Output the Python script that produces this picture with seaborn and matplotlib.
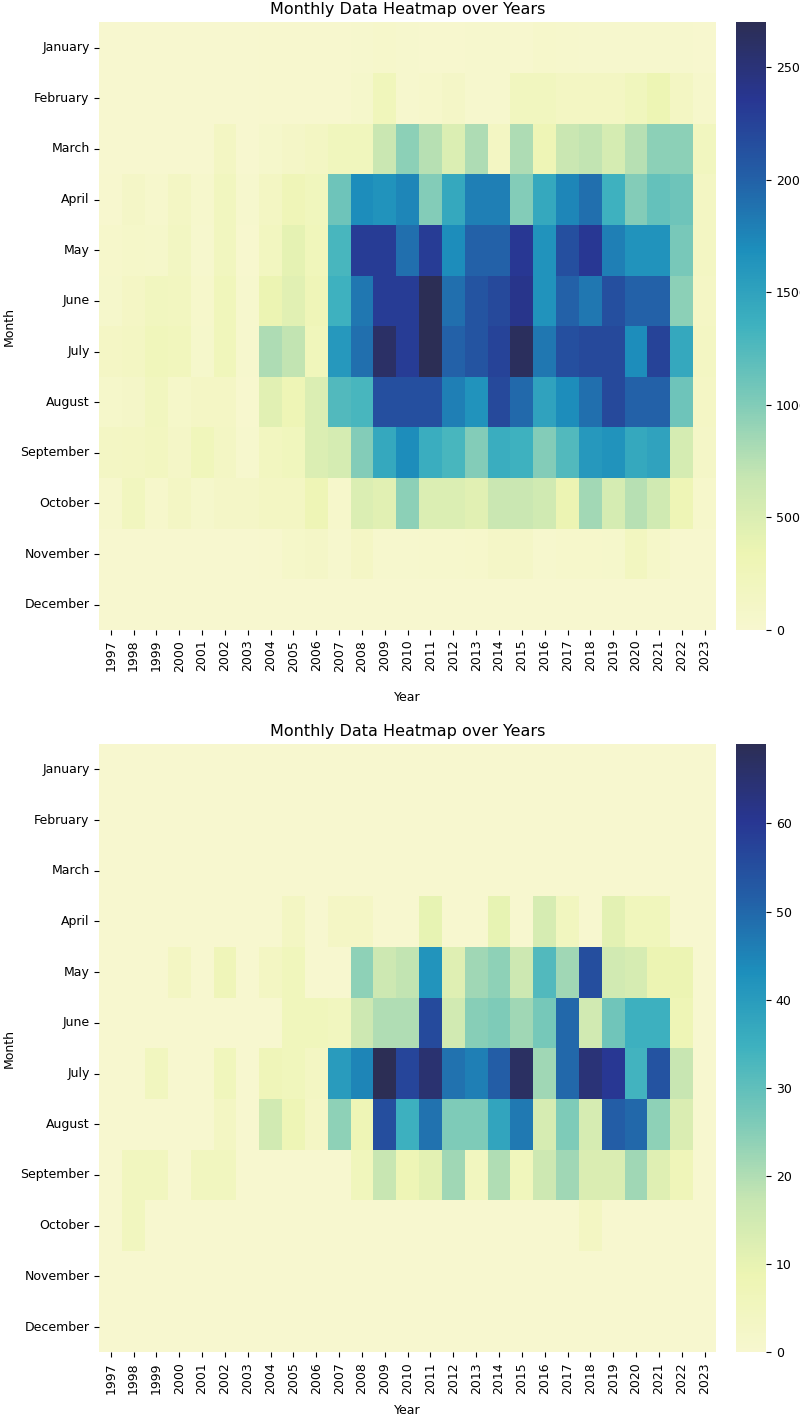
import pandas as pd
import matplotlib
matplotlib.use("Agg")
import matplotlib.pyplot as plt
from matplotlib.colors import LinearSegmentedColormap
import seaborn as sns

years = list(range(1997, 2024))
months = ['January', 'February', 'March', 'April', 'May', 'June', 'July',
          'August', 'September', 'October', 'November', 'December']

# Painel superior (valores por mes, 1997..2023)
top_jan = [10, 10, 10, 10, 10, 10, 10, 15, 15, 20, 20, 25, 50, 25, 20, 20, 25, 25, 20, 45, 40, 25, 30, 30, 30, 30, 20]
top_feb = [10, 10, 10, 10, 10, 10, 10, 15, 15, 20, 20, 60, 250, 30, 50, 100, 30, 30, 200, 200, 150, 150, 150, 230, 330, 150, 50]
top_mar = [10, 10, 10, 10, 10, 150, 10, 60, 100, 150, 230, 230, 650, 950, 750, 500, 800, 150, 800, 300, 650, 700, 550, 750, 950, 950, 200]
top_apr = [20, 100, 40, 130, 40, 200, 30, 150, 280, 230, 1100, 1700, 1650, 1750, 1000, 1450, 1800, 1800, 1000, 1450, 1750, 1900, 1350, 1000, 1150, 1100, 150]
top_may = [50, 80, 70, 160, 30, 200, 20, 180, 420, 250, 1300, 2300, 2300, 1900, 2300, 1700, 2000, 2000, 2350, 1650, 2150, 2350, 1800, 1650, 1650, 1050, 150]
top_jun = [60, 120, 200, 180, 50, 250, 30, 350, 450, 280, 1350, 1850, 2300, 2300, 2700, 1900, 2100, 2200, 2400, 1650, 2000, 1850, 2150, 2000, 2000, 950, 120]
top_jul = [120, 150, 250, 220, 60, 250, 30, 800, 700, 250, 1600, 1900, 2600, 2300, 2700, 2000, 2100, 2250, 2650, 1850, 2150, 2200, 2200, 1700, 2250, 1450, 150]
top_aug = [70, 90, 200, 80, 120, 120, 20, 450, 300, 500, 1250, 1300, 2150, 2150, 2150, 1800, 1650, 2200, 1950, 1500, 1700, 1900, 2200, 2000, 2000, 1100, 120]
top_sep = [130, 150, 180, 100, 250, 130, 30, 180, 230, 500, 550, 1000, 1450, 1700, 1400, 1300, 1000, 1400, 1350, 1000, 1250, 1600, 1650, 1450, 1500, 550, 100]
top_oct = [40, 200, 50, 130, 60, 100, 100, 150, 150, 300, 50, 500, 450, 950, 500, 500, 450, 650, 650, 600, 350, 850, 550, 750, 600, 300, 50]
top_nov = [5, 5, 5, 5, 5, 5, 5, 20, 80, 100, 30, 120, 30, 30, 40, 40, 50, 100, 100, 30, 50, 50, 60, 180, 80, 20, 20]
top_dec = [0, 0, 0, 0, 0, 0, 0, 0, 0, 0, 0, 0, 0, 0, 0, 0, 0, 0, 0, 0, 0, 0, 0, 0, 0, 0, 0]

# Painel inferior
bot_jan = [0] * 27
bot_feb = [0] * 27
bot_mar = [0] * 27
bot_apr = [0, 0, 0, 0, 0, 0, 0, 0, 4, 0, 3, 3, 0, 0, 10, 0, 0, 10, 0, 14, 5, 0, 11, 6, 6, 0, 0]
bot_may = [0, 0, 0, 4, 0, 7, 0, 4, 6, 0, 0, 24, 16, 18, 42, 12, 22, 24, 16, 32, 22, 55, 15, 14, 9, 9, 0]
bot_jun = [0, 0, 0, 0, 0, 0, 0, 0, 6, 6, 5, 16, 20, 20, 56, 15, 25, 26, 22, 27, 50, 15, 28, 35, 35, 8, 0]
bot_jul = [0, 0, 5, 0, 0, 6, 0, 7, 6, 4, 40, 45, 69, 57, 65, 48, 46, 52, 67, 22, 50, 64, 60, 34, 54, 17, 0]
bot_aug = [0, 0, 0, 0, 0, 4, 0, 15, 8, 3, 24, 8, 55, 35, 48, 26, 26, 38, 47, 14, 26, 14, 52, 50, 24, 13, 0]
bot_sep = [0, 5, 5, 0, 5, 5, 0, 0, 0, 0, 0, 6, 17, 8, 11, 22, 5, 20, 6, 16, 22, 13, 13, 22, 12, 7, 0]
bot_oct = [0, 5, 0, 0, 0, 0, 0, 0, 0, 0, 0, 0, 0, 0, 0, 0, 0, 0, 0, 0, 0, 4, 0, 0, 0, 0, 0]
bot_nov = [0] * 27
bot_dec = [0] * 27

df_top = pd.DataFrame([top_jan, top_feb, top_mar, top_apr, top_may, top_jun,
                       top_jul, top_aug, top_sep, top_oct, top_nov, top_dec],
                      index=months, columns=years)
df_bot = pd.DataFrame([bot_jan, bot_feb, bot_mar, bot_apr, bot_may, bot_jun,
                       bot_jul, bot_aug, bot_sep, bot_oct, bot_nov, bot_dec],
                      index=months, columns=years)

# YlGnBu um pouco mais apagado nas pontas, como na imagem original
cores = ['#f7f7cf', '#edf5b3', '#c7e6b2', '#7fcbb8', '#3fb2bf', '#1d8fbc',
         '#235ea6', '#283692', '#2c2e55']
cmap = LinearSegmentedColormap.from_list('ylgnbu_suave', cores)

W, H = 800, 1417
fig = plt.figure(figsize=(W / 100, H / 100), dpi=100)

fs = 9

def painel(df, y_top, y_bot, year_y):
    ax = fig.add_axes([99.3 / W, 1 - y_bot / H, (716 - 99.3) / W, (y_bot - y_top) / H])
    cax = fig.add_axes([736 / W, 1 - y_bot / H, 30 / W, (y_bot - y_top) / H])
    sns.heatmap(df, cmap=cmap, ax=ax, cbar_ax=cax)
    ax.set_title('Monthly Data Heatmap over Years', fontsize=11.5)
    ax.set_xlabel('Year', fontsize=fs)
    ax.set_ylabel('Month', fontsize=fs)
    ax.tick_params(labelsize=fs)
    ax.set_xticklabels(ax.get_xticklabels(), rotation=90)
    ax.set_yticklabels(ax.get_yticklabels(), rotation=0)
    ax.yaxis.set_label_coords(-0.135, 0.5)
    ax.xaxis.set_label_coords(0.5, year_y)
    cax.tick_params(labelsize=fs)
    return ax

painel(df_top, 22.4, 630, -0.100)
painel(df_bot, 744, 1352.4, -0.084)

plt.savefig('out.png', dpi=100)
plt.close()
